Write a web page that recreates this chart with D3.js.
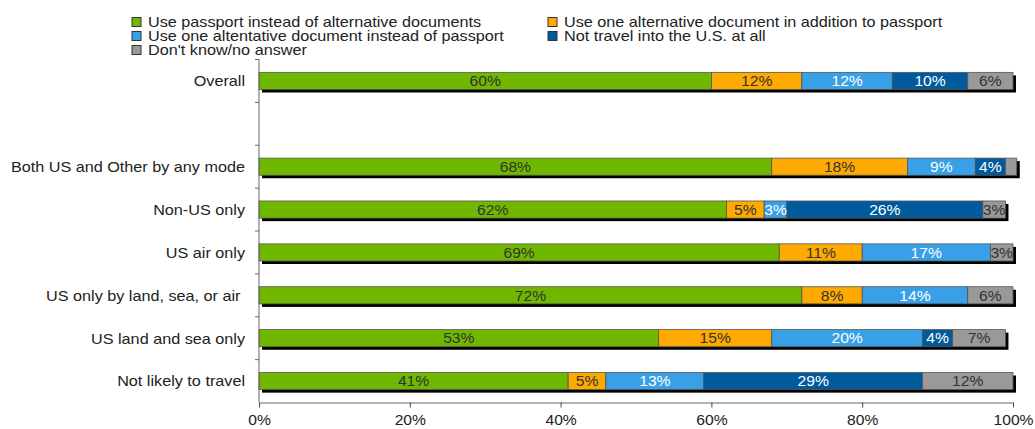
<!DOCTYPE html>
<html><head><meta charset="utf-8">
<script src="https://cdn.jsdelivr.net/npm/d3@7/dist/d3.min.js"></script>
<style>
html,body{margin:0;padding:0;background:#fff;}
svg{display:block;font-family:"Liberation Sans",Arial,sans-serif;}
</style></head>
<body>
<svg id="chart" width="1035" height="429"></svg>
<script>
const categories = ["Overall", "", "Both US and Other by any mode", "Non-US only", "US air only", "US only by land, sea, or air ", "US land and sea only", "Not likely to travel"];
const seriesNames = ["Use passport instead of alternative documents", "Use one alternative document in addition to passport", "Use one altentative document instead of passport", "Not travel into the U.S. at all", "Don't know/no answer"];
const passport     = [60, null, 68, 62, 69, 72, 53, 41];
const altAddition  = [12, null, 18, 5, 11, 8, 15, 5];
const altInstead   = [12, null, 9, 3, 17, 14, 20, 13];
const notTravel    = [10, null, 4, 26, 0, 0, 4, 29];
const dontKnow     = [6, null, 1.5, 3, 3, 6, 7, 12];
const xTicks = [0, 20, 40, 60, 80, 100];

const colors = ["#70b800", "#ffaa00", "#38a0e6", "#005a9c", "#999999"];
const textColors = ["#333333", "#333333", "#ffffff", "#ffffff", "#333333"];
const seriesData = [passport, altAddition, altInstead, notTravel, dontKnow];
const SX = 1.08; // horizontal stretch of the reference's text

const svg = d3.select("#chart");
const x = d3.scaleLinear().domain([0, 100]).range([259, 1013]);
const y = d3.scaleBand().domain(categories).range([59.5, 402.5]).paddingInner(0.6).paddingOuter(0.3);

function stretch(sel, axFn) {
  sel.attr("transform", function(d, i) {
    const ax = axFn ? axFn(d, i) : 0;
    return `matrix(${SX},0,0,1,${(1 - SX) * ax},0)`;
  });
}

// build stacked rows
const rows = categories.map((c, i) => {
  let acc = 0;
  const segs = seriesData.map((s, k) => {
    const v = s[i];
    const seg = {k, v, x0: acc, x1: acc + (v || 0)};
    acc += (v || 0);
    return seg;
  });
  return {cat: c, total: acc, segs, empty: passport[i] == null};
}).filter(r => !r.empty);

// shadows
svg.append("g").selectAll("rect").data(rows).join("rect")
  .attr("x", x(0) + 3)
  .attr("y", d => y(d.cat) + 3)
  .attr("width", d => x(d.total) - x(0))
  .attr("height", y.bandwidth())
  .attr("fill", "#000");

// segments
const rowG = svg.append("g").selectAll("g").data(rows).join("g");
rowG.selectAll("rect").data(d => d.segs.filter(s => s.v > 0).map(s => ({...s, cat: d.cat}))).join("rect")
  .attr("x", d => x(d.x0))
  .attr("y", d => y(d.cat))
  .attr("width", d => x(d.x1) - x(d.x0))
  .attr("height", y.bandwidth())
  .attr("fill", d => colors[d.k])
  .attr("stroke", "#555")
  .attr("stroke-width", 0.8);

const segLabels = rowG.selectAll("text").data(d => d.segs.filter(s => s.v >= 2.5).map(s => ({...s, cat: d.cat}))).join("text")
  .attr("x", d => (x(d.x0) + x(d.x1)) / 2)
  .attr("y", d => y(d.cat) + y.bandwidth() / 2)
  .attr("dy", "0.36em")
  .attr("text-anchor", "middle")
  .attr("font-size", 14.5)
  .attr("fill", d => textColors[d.k])
  .text(d => Math.round(d.v) + "%");
stretch(segLabels, d => (x(d.x0) + x(d.x1)) / 2);

// left axis
svg.append("line").attr("x1", x(0)).attr("x2", x(0)).attr("y1", y.range()[0]).attr("y2", y.range()[1])
  .attr("stroke", "#666").attr("stroke-width", 1);
const bounds = d3.range(categories.length).map(i => y.range()[0] + i * y.step());
svg.append("g").selectAll("line").data(bounds).join("line")
  .attr("x1", x(0) - 4).attr("x2", x(0)).attr("y1", d => d).attr("y2", d => d)
  .attr("stroke", "#666");
const catLabels = svg.append("g").selectAll("text").data(categories.filter(c => c !== "")).join("text")
  .attr("x", 245).attr("y", d => y(d) + y.bandwidth() / 2).attr("dy", "0.36em")
  .attr("text-anchor", "end").attr("font-size", 15).attr("fill", "#222")
  .style("white-space", "pre")
  .text(d => d);
stretch(catLabels, () => 245);

// bottom axis
const xAxis = d3.axisBottom(x).tickValues(xTicks).tickFormat(d => d + "%").tickSize(5).tickSizeOuter(0);
const gx = svg.append("g").attr("transform", `translate(0,${y.range()[1]})`).call(xAxis);
gx.select(".domain").attr("stroke", "#666");
gx.selectAll(".tick line").attr("stroke", "#444");
const tickTexts = gx.selectAll(".tick text").attr("font-size", 14.5).attr("fill", "#222")
  .attr("font-family", "Liberation Sans, Arial, sans-serif").attr("y", 11).attr("dy", "0.8em");
stretch(tickTexts, () => 0);

// legend
const legendPos = [[132, 22], [548, 22], [132, 36], [548, 36], [132, 50]];
const lg = svg.append("g").selectAll("g").data(seriesNames).join("g")
  .attr("transform", (d, i) => `translate(${legendPos[i][0]},${legendPos[i][1]})`);
lg.append("rect").attr("x", 0).attr("y", -4.5).attr("width", 9).attr("height", 9)
  .attr("fill", (d, i) => colors[i]).attr("stroke", "#333").attr("stroke-width", 1);
const legTexts = lg.append("text").attr("x", 16).attr("y", 0).attr("dy", "0.36em").attr("font-size", 15).attr("fill", "#222")
  .text(d => d);
stretch(legTexts, () => 16);
</script>
</body></html>
